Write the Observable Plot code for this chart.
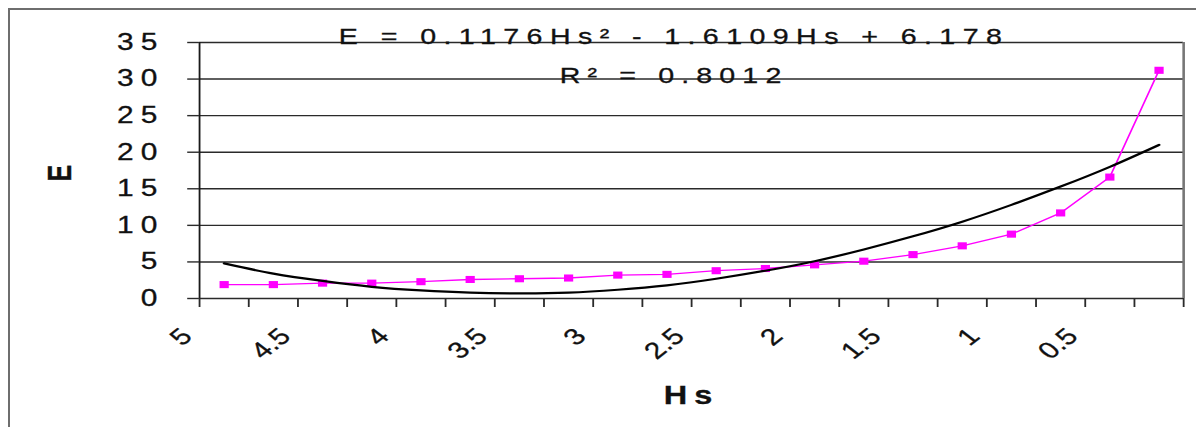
<!DOCTYPE html>
<html>
<head>
<meta charset="utf-8">
<script src="https://cdn.jsdelivr.net/npm/d3@7"></script>
<script src="https://cdn.jsdelivr.net/npm/@observablehq/plot@0.6"></script>
<style>
  html, body { margin: 0; padding: 0; background: #fff; }
  #wrap { position: relative; width: 1196px; height: 427px; overflow: hidden; background: #fff; }
  #chart svg text { letter-spacing: 5.5px; stroke: #111; stroke-width: 0.3px; }
  #border { position: absolute; left: 8px; top: 8px; width: 1300px; height: 500px;
            border-left: 2px solid #6e6e6e; border-top: 2px solid #6e6e6e; pointer-events: none; }
</style>
</head>
<body>
<div id="wrap"><div id="chart"></div><div id="border"></div></div>
<script>
// Categories (Hs) in display order, left to right
const hsCategories = [5, 4.75, 4.5, 4.25, 4, 3.75, 3.5, 3.25, 3, 2.75, 2.5, 2.25, 2, 1.75, 1.5, 1.25, 1, 0.75, 0.5, 0.25];
// Observed E values (magenta series)
const eObserved = [1.9, 1.9, 2.1, 2.1, 2.3, 2.6, 2.7, 2.8, 3.2, 3.3, 3.8, 4.1, 4.6, 5.1, 6.0, 7.2, 8.8, 11.7, 16.6, 31.2];
// Polynomial trendline values read at each category (black line)
const eTrend = [4.8, 3.4, 2.4, 1.6, 1.1, 0.8, 0.7, 0.8, 1.2, 1.8, 2.7, 3.8, 5.1, 6.7, 8.5, 10.5, 12.8, 15.3, 18.0, 21.0];
// Axis tick labels
const xTickLabels = ["5", "4.5", "4", "3.5", "3", "2.5", "2", "1.5", "1", "0.5"];
const yTicks = [0, 5, 10, 15, 20, 25, 30, 35];
const equationText = "E = 0.1176Hs² - 1.6109Hs + 6.178";
const r2Text = "R² = 0.8012";
const xTitle = "Hs";
const yTitle = "E";

const n = hsCategories.length;
const data = hsCategories.map((hs, i) => ({i: i + 1, hs, obs: eObserved[i], trend: eTrend[i]}));
const labelData = xTickLabels.map(l => ({i: hsCategories.indexOf(+l) + 1, label: l}));
const boundaries = d3.range(n + 1).map(k => k + 0.5);

const W = 920, H = 427; // drawn narrow, then stretched horizontally like the original
const font = "'Liberation Sans', Arial, sans-serif";

const plot = Plot.plot({
  width: W,
  height: H,
  marginLeft: 153,
  marginRight: 10,
  marginTop: 42,
  marginBottom: 129,
  style: {fontFamily: font, fontSize: "23px", background: "white", color: "#111"},
  x: {type: "linear", domain: [0.5, n + 0.5], axis: null},
  y: {domain: [0, 35], axis: null},
  marks: [
    Plot.ruleY(yTicks, {stroke: "#2a2a2a", strokeWidth: 1.4}),
    Plot.axisY({ticks: yTicks, tickSize: 9, tickPadding: 18, label: null, fontSize: 23, stroke: "#2a2a2a", strokeWidth: 1.4, fill: "#111"}),
    Plot.axisX({ticks: boundaries, tickSize: 9, tickFormat: () => "", label: null, stroke: "#2a2a2a", strokeWidth: 1.4}),
    Plot.ruleX([0.5], {stroke: "#1a1a1a", strokeWidth: 1.4}),
    Plot.ruleX([n + 0.5], {stroke: "#777", strokeWidth: 2}),
    Plot.lineY(data, {x: "i", y: "obs", stroke: "#ff00ff", strokeWidth: 1.3}),
    Plot.dot(data, {x: "i", y: "obs", symbol: "square", r: 4, fill: "#ff00ff", stroke: "none"}),
    Plot.lineY(data, {x: "i", y: "trend", stroke: "#000", strokeWidth: 2.2, curve: "natural"}),
    Plot.text(labelData, {x: "i", text: "label", frameAnchor: "bottom", rotate: -45, textAnchor: "end", lineAnchor: "middle", dx: -28.5, dy: 34, fontSize: 23, fill: "#111"}),
    Plot.text([equationText], {frameAnchor: "top", textAnchor: "middle", lineAnchor: "bottom", dx: -13.5, dy: 1, fontSize: 22, fill: "#111"}),
    Plot.text([r2Text], {frameAnchor: "top", textAnchor: "middle", lineAnchor: "bottom", dx: -13.5, dy: 40, fontSize: 22, fill: "#111"}),
    Plot.text([xTitle], {frameAnchor: "bottom", textAnchor: "middle", lineAnchor: "bottom", dx: 0, dy: 105, fontSize: 25, fontWeight: "bold", fill: "#111"}),
    Plot.text([yTitle], {frameAnchor: "left", textAnchor: "middle", lineAnchor: "middle", rotate: -90, dx: -107, fontSize: 25, fontWeight: "bold", fill: "#111"})
  ]
});

// x tick labels are not letter-spaced in the original
d3.select(plot).selectAll("text")
  .filter(function() { const t = this.getAttribute("transform") || ""; return t.includes("rotate(-45"); })
  .style("letter-spacing", "0px");
// equation line slightly wider spacing
d3.select(plot).selectAll("text")
  .filter(function() { return this.textContent === equationText; })
  .style("letter-spacing", "5.7px");

plot.setAttribute("preserveAspectRatio", "none");
plot.setAttribute("width", 1196);
plot.setAttribute("height", 427);
plot.style.width = "1196px";
plot.style.height = "427px";
plot.style.maxWidth = "none";
document.getElementById("chart").appendChild(plot);
</script>
</body>
</html>
